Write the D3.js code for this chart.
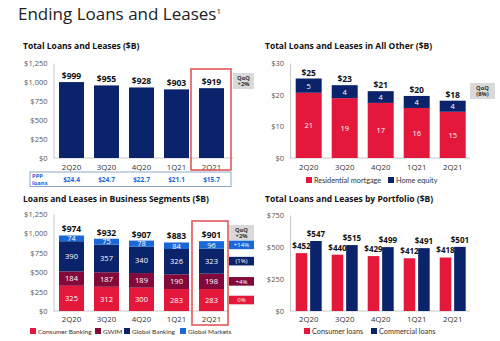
<!DOCTYPE html>
<html>
<head>
<meta charset="utf-8">
<script src="https://cdn.jsdelivr.net/npm/d3@7"></script>
<style>
  body { margin: 0; background: #fff; }
  svg { display: block; font-family: "Open Sans", sans-serif; }
</style>
</head>
<body>
<svg id="chart" width="500" height="341"></svg>
<script>
const quarters = ['2Q20', '3Q20', '4Q20', '1Q21', '2Q21'];

// Total loans and leases ($B) + PPP row
const totalLoans = [999, 955, 928, 903, 919];
const pppLoans = ['$24.4', '$24.7', '$22.7', '$21.1', '$15.7'];

// All Other ($B)
const residentialMortgage = [20.6, 18.9, 17.4, 15.8, 14.6];
const homeEquity = [4.5, 4.1, 3.7, 3.8, 3.5];

// Business segments ($B)
const consumerBanking = [325, 312, 300, 283, 283];
const gwim = [184, 187, 189, 190, 198];
const globalBanking = [390, 357, 340, 326, 323];
const globalMarkets = [74, 75, 78, 84, 96];
const segmentTotals = [974, 932, 907, 883, 901];
const segmentQoQ = ['0%', '+4%', '(1%)', '+14%'];

// Portfolio ($B)
const consumerLoans = [452, 440, 429, 412, 418];
const commercialLoans = [547, 515, 499, 491, 501];

const RED = '#e3183a', NAVY = '#0b236b', MAROON = '#82093a', BLUE = '#1a67d8';
const AXIS = '#c9c9c9', TICK = '#555';
const money = d => '$' + d3.format(',')(d);

const svg = d3.select('#chart');
svg.append('rect').attr('width', 500).attr('height', 341).attr('fill', '#fff');

// page title
const title = svg.append('text').attr('x', 18).attr('y', 20)
  .attr('fill', '#222').style('font-size', '17px');
title.append('tspan').text('Ending Loans and Leases');
title.append('tspan').attr('dy', -6).style('font-size', '8px').text('1');

function chartTitle(x, y, txt) {
  svg.append('text').attr('x', x).attr('y', y).attr('fill', '#111')
    .style('font-size', '8.5px').style('font-weight', 'bold').text(txt);
}

function yAxis(y, ticks, fmt, x) {
  const ax = svg.append('g').attr('transform', `translate(${x},0)`)
    .call(d3.axisLeft(y).tickValues(ticks).tickSize(0).tickPadding(6).tickFormat(fmt));
  ax.select('.domain').attr('stroke', AXIS);
  ax.selectAll('text').attr('fill', TICK).style('font-size', '7.5px')
    .style('font-family', '"Open Sans", sans-serif');
}

function xAxis(x, y0, x0, x1, labelY) {
  svg.append('line').attr('x1', x0).attr('x2', x1).attr('y1', y0).attr('y2', y0)
    .attr('stroke', AXIS);
  svg.append('g').selectAll('text').data(quarters).join('text')
    .attr('x', d => x(d) + x.bandwidth() / 2).attr('y', labelY)
    .attr('text-anchor', 'middle').attr('fill', '#333').style('font-size', '7.8px')
    .text(d => d);
}

function legend(items, y) {
  const g = svg.append('g');
  items.forEach(it => {
    g.append('rect').attr('x', it.x).attr('y', y - 6).attr('width', 6).attr('height', 6)
      .attr('fill', it.color);
    g.append('text').attr('x', it.x + 8).attr('y', y).attr('fill', '#333')
      .style('font-family', 'Lato, sans-serif')
      .style('font-size', it.size || '6.5px').text(it.label);
  });
}

function qoqBox(x, y, w, h, lines) {
  svg.append('rect').attr('x', x).attr('y', y).attr('width', w).attr('height', h)
    .attr('fill', '#d9d9d9');
  lines.forEach((t, i) => {
    svg.append('text').attr('x', x + w / 2).attr('y', y + 6.5 + i * 6.5)
      .attr('text-anchor', 'middle').attr('fill', '#333')
      .style('font-size', '5.8px').style('font-weight', 'bold').text(t);
  });
}

// ---------- Chart 1: Total Loans and Leases ----------
{
  chartTitle(23, 49, 'Total Loans and Leases ($B)');
  const x = d3.scaleBand().domain(quarters).range([54, 229]).paddingInner(0.286).paddingOuter(0.143);
  const y = d3.scaleLinear().domain([0, 1250]).range([158, 63]);
  yAxis(y, [0, 250, 500, 750, 1000, 1250], money, 53.5);
  xAxis(x, 158, 53.5, 233, 170);
  const data = quarters.map((q, i) => ({ q, v: totalLoans[i] }));
  svg.append('g').selectAll('rect').data(data).join('rect')
    .attr('x', d => x(d.q)).attr('width', x.bandwidth())
    .attr('y', d => y(d.v)).attr('height', d => y(0) - y(d.v)).attr('fill', NAVY);
  svg.append('g').selectAll('text').data(data).join('text')
    .attr('x', d => x(d.q) + x.bandwidth() / 2).attr('y', d => y(d.v) - 3)
    .attr('text-anchor', 'middle').attr('fill', '#111')
    .style('font-size', '8.5px').style('font-weight', 'bold').text(d => money(d.v));

  // PPP row
  svg.append('rect').attr('x', 30).attr('y', 172).attr('width', 201).attr('height', 14.5)
    .attr('fill', '#fff').attr('stroke', '#8ea7c6').attr('stroke-width', 1);
  svg.append('text').attr('x', 32).attr('y', 178).attr('fill', BLUE)
    .style('font-size', '5.8px').style('font-weight', 'bold').text('PPP');
  svg.append('text').attr('x', 32).attr('y', 184.5).attr('fill', BLUE)
    .style('font-size', '5.8px').style('font-weight', 'bold').text('loans');
  svg.append('g').selectAll('text').data(pppLoans).join('text')
    .attr('x', (d, i) => x(quarters[i]) + x.bandwidth() / 2).attr('y', 181.5)
    .attr('text-anchor', 'middle').attr('fill', BLUE)
    .style('font-size', '6.5px').style('font-weight', 'bold').text(d => d);

  // highlight
  svg.append('rect').attr('x', 191).attr('y', 69).attr('width', 40).attr('height', 101)
    .attr('fill', 'none').attr('stroke', '#e2585a').attr('stroke-width', 1.6);
  qoqBox(233, 73, 21, 16, ['QoQ', '+2%']);
}

// ---------- Chart 2: All Other ----------
{
  chartTitle(265, 49, 'Total Loans and Leases in All Other ($B)');
  const x = d3.scaleBand().domain(quarters).range([290.7, 470.7]).paddingInner(0.278).paddingOuter(0.139);
  const y = d3.scaleLinear().domain([0, 30]).range([158, 63]);
  yAxis(y, [0, 10, 20, 30], d => '$' + d, 290);
  xAxis(x, 158, 290, 470, 169.5);
  const data = quarters.map((q, i) => ({ q, rm: residentialMortgage[i], he: homeEquity[i] }));
  const g = svg.append('g');
  g.selectAll('.rm').data(data).join('rect').attr('class', 'rm')
    .attr('x', d => x(d.q)).attr('width', x.bandwidth())
    .attr('y', d => y(d.rm)).attr('height', d => y(0) - y(d.rm)).attr('fill', RED);
  g.selectAll('.he').data(data).join('rect').attr('class', 'he')
    .attr('x', d => x(d.q)).attr('width', x.bandwidth())
    .attr('y', d => y(d.rm + d.he)).attr('height', d => y(d.rm) - y(d.rm + d.he)).attr('fill', NAVY);
  const cx = d => x(d.q) + x.bandwidth() / 2;
  g.selectAll('.rml').data(data).join('text').attr('class', 'rml')
    .attr('x', cx).attr('y', d => y(d.rm / 2) + 3).attr('text-anchor', 'middle')
    .attr('fill', '#fff').style('font-size', '7.5px').text(d => Math.round(d.rm));
  g.selectAll('.hel').data(data).join('text').attr('class', 'hel')
    .attr('x', cx).attr('y', d => y(d.rm + d.he / 2) + 3).attr('text-anchor', 'middle')
    .attr('fill', '#fff').style('font-size', '7.5px').text(d => Math.round(d.he));
  g.selectAll('.tot').data(data).join('text').attr('class', 'tot')
    .attr('x', cx).attr('y', d => y(d.rm + d.he) - 3).attr('text-anchor', 'middle')
    .attr('fill', '#111').style('font-size', '8.5px').style('font-weight', 'bold')
    .text(d => '$' + Math.round(d.rm + d.he));
  legend([{ x: 306, color: RED, label: 'Residential mortgage', size: '7.3px' },
          { x: 388, color: NAVY, label: 'Home equity', size: '7.3px' }], 183);
  qoqBox(470, 83, 25, 16, ['QoQ', '(8%)']);
}

// ---------- Chart 3: Business Segments ----------
{
  chartTitle(23, 202, 'Loans and Leases in Business Segments ($B)');
  const x = d3.scaleBand().domain(quarters).range([54, 229]).paddingInner(0.286).paddingOuter(0.143);
  const y = d3.scaleLinear().domain([0, 1250]).range([311, 214]);
  yAxis(y, [0, 250, 500, 750, 1000, 1250], money, 53.5);
  xAxis(x, 311, 53.5, 229, 322);
  const keys = ['cb', 'gwim', 'gb', 'gm'];
  const colors = { cb: RED, gwim: MAROON, gb: NAVY, gm: BLUE };
  const rows = quarters.map((q, i) => ({ q, cb: consumerBanking[i], gwim: gwim[i], gb: globalBanking[i], gm: globalMarkets[i] }));
  const series = d3.stack().keys(keys)(rows);
  const cx = d => x(d.data.q) + x.bandwidth() / 2;
  series.forEach(s => {
    const g = svg.append('g');
    g.selectAll('rect').data(s).join('rect')
      .attr('x', d => x(d.data.q)).attr('width', x.bandwidth())
      .attr('y', d => y(d[1])).attr('height', d => y(d[0]) - y(d[1])).attr('fill', colors[s.key]);
    g.selectAll('text').data(s).join('text')
      .attr('x', cx).attr('y', d => y((d[0] + d[1]) / 2) + 2.8).attr('text-anchor', 'middle')
      .attr('fill', '#fff').style('font-size', '7.5px').text(d => d.data[s.key]);
  });
  svg.append('g').selectAll('text').data(quarters).join('text')
    .attr('x', d => x(d) + x.bandwidth() / 2).attr('y', (d, i) => y(segmentTotals[i]) - 3)
    .attr('text-anchor', 'middle').attr('fill', '#111')
    .style('font-size', '8.5px').style('font-weight', 'bold').text((d, i) => money(segmentTotals[i]));

  svg.append('rect').attr('x', 192).attr('y', 221).attr('width', 36).attr('height', 104)
    .attr('fill', 'none').attr('stroke', '#e2585a').attr('stroke-width', 1.6);
  qoqBox(229, 225, 25, 15, ['QoQ', '+2%']);
  const last = series.map(s => s[s.length - 1]);
  last.forEach((d, i) => {
    const mid = y((d[0] + d[1]) / 2);
    svg.append('rect').attr('x', 229).attr('y', mid - 4.3).attr('width', 25).attr('height', 8.6)
      .attr('fill', colors[keys[i]]);
    svg.append('text').attr('x', 241.5).attr('y', mid + 2.2).attr('text-anchor', 'middle')
      .attr('fill', '#fff').style('font-size', '6px').text(segmentQoQ[i]);
  });
  legend([{ x: 30, color: RED, label: 'Consumer Banking' },
          { x: 95, color: MAROON, label: 'GWIM' },
          { x: 124, color: NAVY, label: 'Global Banking' },
          { x: 180, color: BLUE, label: 'Global Markets' }], 334);
}

// ---------- Chart 4: Portfolio ----------
{
  chartTitle(265, 202, 'Total Loans and Leases by Portfolio ($B)');
  const x = d3.scaleBand().domain(quarters).range([290.7, 470.7]).paddingInner(0.278).paddingOuter(0.139);
  const sub = d3.scaleBand().domain(['consumer', 'commercial']).range([0, x.bandwidth()]).paddingInner(0.2);
  const y = d3.scaleLinear().domain([0, 750]).range([311, 215]);
  yAxis(y, [0, 250, 500, 750], money, 290);
  xAxis(x, 311, 290, 470, 322);
  const data = [];
  quarters.forEach((q, i) => {
    data.push({ q, k: 'consumer', v: consumerLoans[i] });
    data.push({ q, k: 'commercial', v: commercialLoans[i] });
  });
  svg.append('g').selectAll('rect').data(data).join('rect')
    .attr('x', d => x(d.q) + sub(d.k)).attr('width', sub.bandwidth())
    .attr('y', d => y(d.v)).attr('height', d => y(0) - y(d.v))
    .attr('fill', d => d.k === 'consumer' ? RED : NAVY);
  svg.append('g').selectAll('text').data(data).join('text')
    .attr('x', d => x(d.q) + sub(d.k) + sub.bandwidth() / 2).attr('y', d => y(d.v) - 4)
    .attr('text-anchor', 'middle').attr('fill', '#111')
    .style('font-size', '8px').style('font-weight', 'bold').text(d => money(d.v));
  legend([{ x: 304, color: RED, label: 'Consumer loans', size: '7.3px' },
          { x: 371, color: NAVY, label: 'Commercial loans', size: '7.3px' }], 334);
}
</script>
</body>
</html>
